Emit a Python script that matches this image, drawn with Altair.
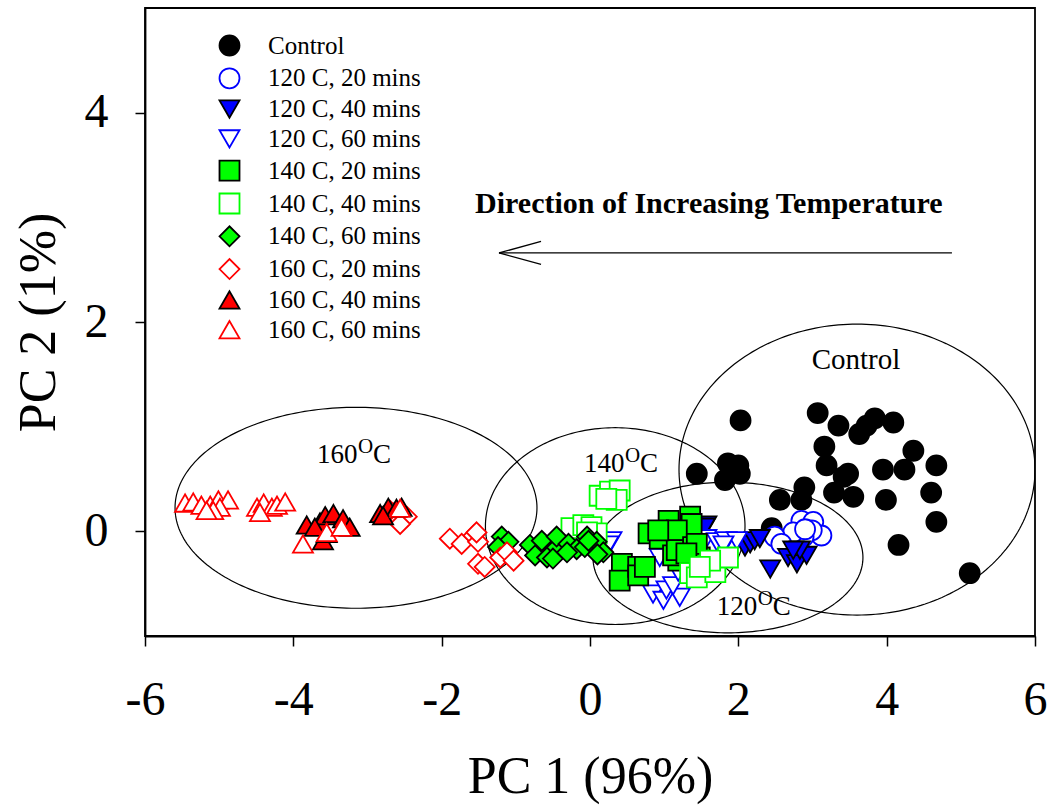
import altair as alt
import pandas as pd
import numpy as np

# ---------------- data ----------------
series_names = ["Control", "120 C, 20 mins", "120 C, 40 mins", "120 C, 60 mins",
                "140 C, 20 mins", "140 C, 40 mins", "140 C, 60 mins",
                "160 C, 20 mins", "160 C, 40 mins", "160 C, 60 mins"]

control_x = [2.03, 3.07, 3.35, 3.63, 3.73, 3.84, 4.09, 3.16, 4.36, 1.44, 1.86, 2.00, 1.82, 2.02,
             3.19, 3.48, 3.42, 3.95, 4.24, 4.67, 2.89, 2.56, 2.85, 3.29, 3.55, 3.99, 4.60, 4.67,
             2.45, 4.16, 5.12]
control_y = [1.06, 1.13, 1.01, 0.93, 1.01, 1.08, 1.04, 0.81, 0.77, 0.55, 0.65, 0.63, 0.49, 0.55,
             0.63, 0.55, 0.52, 0.59, 0.59, 0.63, 0.42, 0.30, 0.30, 0.37, 0.33, 0.30, 0.37, 0.09,
             0.03, -0.13, -0.40]

c120_20_x = [2.85, 3.01, 3.12, 2.99, 2.88, 2.74, 2.49, 2.58, 2.90]
c120_20_y = [0.10, 0.09, -0.04, 0.01, -0.05, -0.01, -0.05, -0.12, 0.02]

c120_40_x = [1.57, 1.55, 1.10, 2.09, 2.16, 2.22, 2.29, 2.43, 2.67, 2.79, 2.92, 2.83, 2.74]
c120_40_y = [0.06, 0.04, -0.09, -0.15, -0.12, -0.09, -0.07, -0.36, -0.25, -0.31, -0.23, -0.18, -0.18]

c120_60_x = [0.29, 0.25, 0.94, 1.57, 1.71, 1.84, 1.98, 1.80, 0.85, 0.99, 1.21, 1.03, 1.12, 1.19]
c120_60_y = [-0.09, -0.13, -0.25, -0.07, -0.10, -0.09, -0.09, -0.13, -0.60, -0.66, -0.63, -0.56, -0.52, -0.39]

c140_20_x = [0.43, 0.40, 0.65, 0.65, 0.74, 0.79, 0.94, 1.06, 1.35, 1.30, 1.37, 1.17, 1.19, 1.12,
             1.17, 1.39, 1.48, 1.44, 1.30, 0.92]
c140_20_y = [-0.31, -0.47, -0.34, -0.42, -0.34, -0.02, -0.07, 0.10, 0.14, -0.02, 0.07, 0.01, -0.28, -0.23,
             -0.18, -0.15, -0.25, -0.12, -0.21, 0.01]

c140_40_x = [0.13, 0.27, 0.40, 0.36, 0.22, -0.25, -0.09, 0.02, 0.09, -0.04, 1.35, 1.44, 1.69, 1.86, 1.62, 1.48]
c140_40_y = [0.34, 0.38, 0.39, 0.30, 0.31, 0.03, 0.06, 0.04, -0.02, -0.01, -0.40, -0.44, -0.39, -0.25, -0.28, -0.34]

c140_60_x = [-1.19, -1.10, -1.24, -0.81, -0.65, -0.47, -0.45, -0.29, -0.18, -0.04, -0.07, 0.09, 0.18,
             -0.74, -0.58, -0.50, -0.31, -0.02, 0.10]
c140_60_y = [-0.05, -0.10, -0.15, -0.13, -0.09, -0.17, -0.05, -0.12, -0.17, -0.05, -0.15, -0.10, -0.20,
             -0.23, -0.25, -0.26, -0.20, -0.09, -0.22]

c160_20_x = [-1.89, -1.73, -1.57, -1.51, -1.51, -1.42, -1.21, -1.12, -1.03, -1.53, -2.65, -2.47, -2.56, -2.70]
c160_20_y = [-0.07, -0.12, -0.04, -0.10, -0.31, -0.34, -0.25, -0.20, -0.28, -0.01, 0.17, 0.14, 0.07, 0.20]

c160_40_x = [-3.82, -3.64, -3.57, -3.46, -3.33, -3.24, -3.60, -3.55, -3.71, -2.83, -2.72, -2.61, -2.54, -2.79]
c160_40_y = [0.06, 0.09, 0.15, 0.17, 0.12, 0.04, -0.09, -0.02, 0.04, 0.17, 0.23, 0.22, 0.23, 0.15]

c160_60_x = [-5.46, -5.35, -5.24, -5.12, -5.01, -4.88, -4.99, -5.08, -5.17, -4.49, -4.40, -4.29, -4.22,
             -4.11, -4.45, -3.87, -3.55, -3.35, -2.56]
c160_60_y = [0.27, 0.28, 0.25, 0.25, 0.30, 0.30, 0.23, 0.20, 0.20, 0.23, 0.27, 0.23, 0.25,
             0.28, 0.18, -0.12, -0.01, 0.04, 0.22]

all_x = [control_x, c120_20_x, c120_40_x, c120_60_x, c140_20_x, c140_40_x, c140_60_x,
         c160_20_x, c160_40_x, c160_60_x]
all_y = [control_y, c120_20_y, c120_40_y, c120_60_y, c140_20_y, c140_40_y, c140_60_y,
         c160_20_y, c160_40_y, c160_60_y]

# ellipses (group regions)
ellipse_names = ["Control", "160", "140", "120"]
ellipse_cx = [3.60, -3.155, 0.34, 1.86]
ellipse_cy = [0.59, 0.225, 0.05, -0.25]
ellipse_rx = [2.40, 2.44, 1.75, 1.82]
ellipse_ry = [1.39, 0.96, 0.94, 0.72]

# temperature labels
temp_labels = ["160", "140", "120"]
temp_x = [-3.68, -0.08, 1.71]
temp_y = [0.65, 0.565, -0.80]

# arrow (shaft + two barbs)
arrow_x = [4.88, -1.227, -1.227]
arrow_x2 = [-1.227, -0.66, -0.66]
arrow_y = [2.66, 2.66, 2.66]
arrow_y2 = [2.66, 2.77, 2.55]

# ---------------- tables ----------------
rows = []
for name, xs_, ys_ in zip(series_names, all_x, all_y):
    for a, b in zip(xs_, ys_):
        rows.append({"series": name, "x": a, "y": b})
pts = pd.DataFrame(rows)

erows = []
t = np.linspace(0, 2 * np.pi, 241)
for n, cx, cy, rx, ry in zip(ellipse_names, ellipse_cx, ellipse_cy, ellipse_rx, ellipse_ry):
    for i, tt in enumerate(t):
        erows.append({"name": n, "idx": i, "x": cx + rx * np.cos(tt), "y": cy + ry * np.sin(tt)})
ell = pd.DataFrame(erows)

tl = pd.DataFrame({"label": temp_labels, "x": temp_x, "y": temp_y})
arr = pd.DataFrame({"x": arrow_x, "x2": arrow_x2, "y": arrow_y, "y2": arrow_y2})

FONT = "Liberation Serif"

xs = alt.Scale(domain=[-6, 6], nice=False, zero=False)
ys = alt.Scale(domain=[-1, 5], nice=False, zero=False)

x_axis = alt.Axis(values=[-6, -4, -2, 0, 2, 4, 6], title="PC 1 (96%)", labelExpr="'' + datum.value",
                  labelPadding=30, titlePadding=27, labelFlush=False)
y_axis = alt.Axis(values=[0, 2, 4], title="PC 2 (1%)", labelPadding=27, titlePadding=19,
                  labelExpr="'' + datum.value", labelFlush=False)

stroke_range = ["black", "#0000ff", "black", "#0000ff", "black", "#00ff00", "black", "#ff0000", "black", "#ff0000"]
fill_range = ["black", "white", "#0000ff", "white", "#00ff00", "white", "#00ff00", "white", "#ff0000", "white"]
shape_range = ["circle", "circle", "triangle-down", "triangle-down", "square", "square",
               "diamond", "diamond", "triangle-up", "triangle-up"]
size_range = [400, 400, 340, 340, 250, 250, 500, 500, 340, 340]

leg = alt.Legend(title=None, orient="none", legendX=72, legendY=25, padding=0,
                 labelFont=FONT, labelFontSize=25, labelColor="black", labelOffset=26,
                 rowPadding=3.8, symbolStrokeWidth=1.8, labelLimit=400)

ellipses = alt.Chart(ell).mark_line(color="black", strokeWidth=1.2, clip=True).encode(
    x=alt.X("x:Q", scale=xs, axis=x_axis),
    y=alt.Y("y:Q", scale=ys, axis=y_axis),
    detail="name:N",
    order="idx:Q",
)

points = alt.Chart(pts).mark_point(filled=True, strokeWidth=1.8, opacity=1).encode(
    x=alt.X("x:Q", scale=xs),
    y=alt.Y("y:Q", scale=ys),
    shape=alt.Shape("series:N", scale=alt.Scale(domain=series_names, range=shape_range), legend=leg),
    fill=alt.Fill("series:N", scale=alt.Scale(domain=series_names, range=fill_range), legend=leg),
    stroke=alt.Stroke("series:N", scale=alt.Scale(domain=series_names, range=stroke_range), legend=leg),
    size=alt.Size("series:N", scale=alt.Scale(domain=series_names, range=size_range), legend=leg),
)

digits = alt.Chart(tl).mark_text(font=FONT, fontSize=27, align="left", baseline="alphabetic",
                                 color="black").encode(
    x=alt.X("x:Q", scale=xs), y=alt.Y("y:Q", scale=ys), text="label:N")
sup = alt.Chart(tl).mark_text(font=FONT, fontSize=21, align="left", baseline="alphabetic",
                              color="black", dx=41, dy=-10).encode(
    x=alt.X("x:Q", scale=xs), y=alt.Y("y:Q", scale=ys), text=alt.value("O"))
cee = alt.Chart(tl).mark_text(font=FONT, fontSize=27, align="left", baseline="alphabetic",
                              color="black", dx=56).encode(
    x=alt.X("x:Q", scale=xs), y=alt.Y("y:Q", scale=ys), text=alt.value("C"))

control_lbl = alt.Chart(pd.DataFrame({"x": [3.586], "y": [1.55], "t": ["Control"]})).mark_text(
    font=FONT, fontSize=29, align="center", baseline="alphabetic", color="black").encode(
    x=alt.X("x:Q", scale=xs), y=alt.Y("y:Q", scale=ys), text="t:N")

direction = alt.Chart(pd.DataFrame({"x": [-1.55], "y": [3.04],
                                    "t": ["Direction of Increasing Temperature"]})).mark_text(
    font=FONT, fontSize=30, fontWeight="bold", align="left", baseline="alphabetic", color="black").encode(
    x=alt.X("x:Q", scale=xs), y=alt.Y("y:Q", scale=ys), text="t:N")

arrow = alt.Chart(arr).mark_rule(color="black", strokeWidth=1.3).encode(
    x=alt.X("x:Q", scale=xs), x2="x2:Q",
    y=alt.Y("y:Q", scale=ys), y2="y2:Q")

chart = alt.layer(ellipses, points, digits, sup, cee, control_lbl, direction, arrow).properties(
    width=890, height=628,
    autosize=alt.AutoSizeParams(type="none"),
    padding={"left": 145, "top": 8, "right": 19, "bottom": 169},
    background="white",
).configure_view(
    stroke="black", strokeWidth=1.8
).configure_axis(
    grid=False, domainColor="black", domainWidth=1.8, tickColor="black", tickWidth=1.5,
    tickSize=10, labelFont=FONT, labelFontSize=48, labelColor="black",
    titleFont=FONT, titleFontSize=52, titleFontWeight="normal", titleColor="black",
)

chart.save("out.html", embed_options={"renderer": "svg", "actions": False})
